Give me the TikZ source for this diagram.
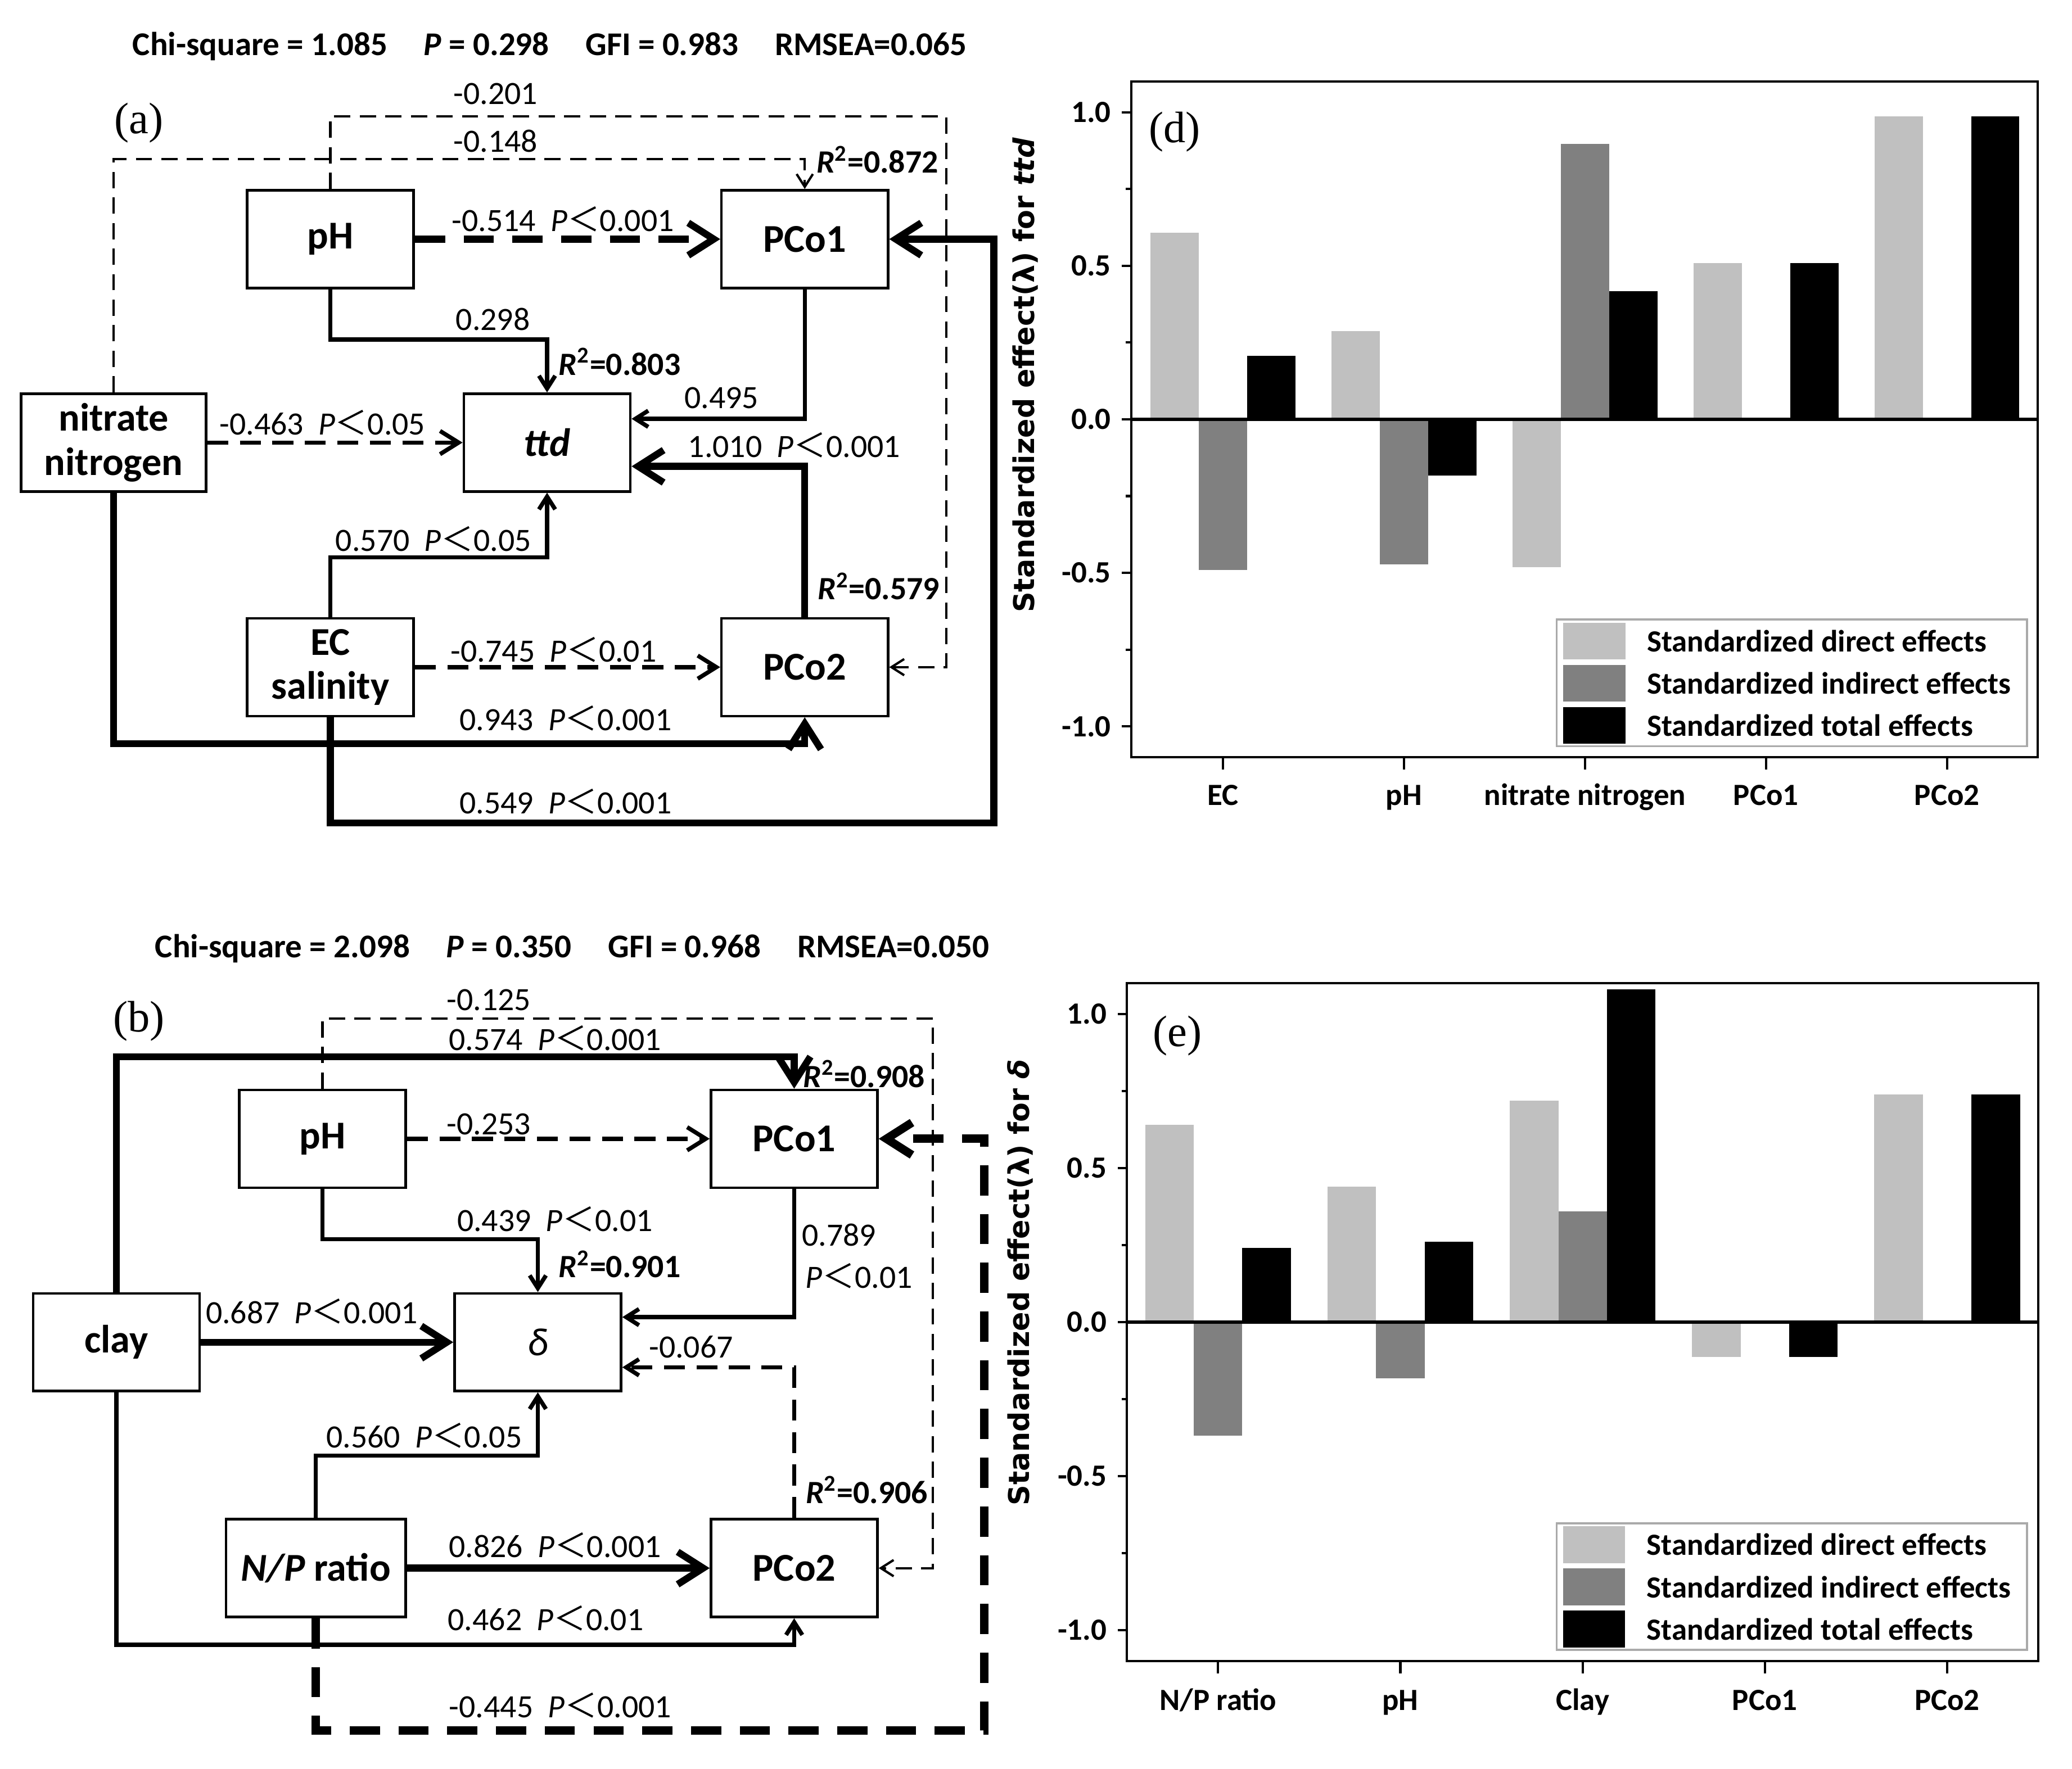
\documentclass[tikz,border=0pt]{standalone}
\usepackage{fontspec}
\setmainfont{Carlito}
\newfontfamily\panelfont{Liberation Serif}
\newfontfamily\axisfont{DejaVu Sans}
\newfontfamily\cjkfont{Noto Sans CJK SC}
\usetikzlibrary{arrows.meta}
\definecolor{directgray}{RGB}{192,192,192}
\definecolor{indirectgray}{RGB}{128,128,128}
\definecolor{legendgray}{RGB}{170,170,170}
\newcommand{\pless}{{\cjkfont ＜}}
\newcommand{\pgap}{\hspace{0.45em}}
\tikzset{
  var/.style={draw, line width=1.1pt, minimum width=2.52cm, minimum height=1.48cm, inner sep=0pt, align=center, font=\fontsize{17}{19}\selectfont\bfseries},
  coef/.style={anchor=base, inner sep=0pt, font=\fontsize{14}{16}\selectfont},
  rsq/.style={anchor=base, inner sep=0pt, font=\fontsize{14}{16}\selectfont\bfseries},
  fitstat/.style={anchor=base west, inner sep=0pt, font=\fontsize{14.3}{17}\selectfont\bfseries},
  panel/.style={inner sep=0pt, font=\fontsize{19}{21}\selectfont\panelfont},
  ticklab/.style={inner sep=0pt, font=\fontsize{13.3}{15}\selectfont\bfseries},
  ylab/.style={rotate=90, anchor=west, inner sep=0pt, font=\fontsize{12.3}{14}\selectfont\axisfont\bfseries},
  thinl/.style={line width=1pt},
  midl/.style={line width=1.8pt},
  thickl/.style={line width=3pt},
  xthickl/.style={line width=3.6pt},
  dashT/.style={dash pattern=on 7pt off 4pt},
  dashM/.style={dash pattern=on 9pt off 5pt},
  dashK/.style={dash pattern=on 13pt off 8pt},
  tipT/.style={-{Straight Barb[length=5.5pt,width=7pt]}},
  tipM/.style={-{Straight Barb[length=8pt,width=10pt]}},
  tipK/.style={-{Straight Barb[length=11pt,width=14pt]}},
}

\begin{document}
\begin{tikzpicture}[x=0.02cm, y=-0.02cm]
  \useasboundingbox (0,0) rectangle (1568,1339);

  % (a) path model for ttd
  \node[fitstat] (fitA) at (100,42) {Chi-square = 1.085\hspace{0.55cm}\textit{P} = 0.298\hspace{0.55cm}GFI = 0.983\hspace{0.55cm}RMSEA=0.065};
  \node[panel] (labA) at (105,93) {(a)};

  \node[var] (phA) at (250,181) {pH};
  \node[var] (pco1A) at (609,181) {PCo1};
  \node[var, minimum width=2.8cm] (nitA) at (86,335) {nitrate\\nitrogen};
  \node[var] (ttdA) at (414,335) {\textit{ttd}};
  \node[var] (ecA) at (250,505) {EC\\salinity};
  \node[var] (pco2A) at (609,505) {PCo2};
  \coordinate (topA) at (716,88);
  \coordinate (rimA) at (752,623);

  \draw[thinl, dashT, tipT] (phA.north) |- (topA) |- (pco2A.east);
  \draw[thinl, dashT, tipT] (nitA.north) |- ([yshift=0.45cm]pco1A.north) -- (pco1A.north);
  \draw[thickl, dashK, tipK] (phA) -- (pco1A);
  \draw[midl, tipT] (phA.south) |- ([yshift=0.8cm]ttdA.north) -- (ttdA.north);
  \draw[midl, tipT] (pco1A.south) |- ([yshift=0.36cm]ttdA.east);
  \draw[thickl, tipK] (pco2A.north) |- ([yshift=-0.36cm]ttdA.east);
  \draw[midl, dashM, tipM] (nitA) -- (ttdA);
  \draw[midl, tipT] (ecA.north) |- ([yshift=-0.98cm]ttdA.south) -- (ttdA.south);
  \draw[midl, dashM, tipM] (ecA) -- (pco2A);
  \draw[thickl, tipK] (nitA.south) |- ([yshift=-0.4cm]pco2A.south) -- (pco2A.south);
  \draw[thickl, tipK] (ecA.south) |- (rimA) |- (pco1A.east);

  \node[coef] (cA1) at (375,79) {-0.201};
  \node[coef] (cA2) at (375,115) {-0.148};
  \node[rsq] (rA1) at (664,131) {\textit{R}\textsuperscript{2}=0.872};
  \node[coef] (cA3) at (426,175) {-0.514\pgap\textit{P}\pless0.001};
  \node[coef] (cA4) at (373,250) {0.298};
  \node[rsq] (rA2) at (469,284) {\textit{R}\textsuperscript{2}=0.803};
  \node[coef] (cA5) at (546,309) {0.495};
  \node[coef] (cA6) at (244,329) {-0.463\pgap\textit{P}\pless0.05};
  \node[coef] (cA7) at (601,346) {1.010\pgap\textit{P}\pless0.001};
  \node[coef] (cA8) at (328,417) {0.570\pgap\textit{P}\pless0.05};
  \node[rsq] (rA3) at (665,454) {\textit{R}\textsuperscript{2}=0.579};
  \node[coef] (cA9) at (419,501) {-0.745\pgap\textit{P}\pless0.01};
  \node[coef] (cA10) at (428,553) {0.943\pgap\textit{P}\pless0.001};
  \node[coef] (cA11) at (428,616) {0.549\pgap\textit{P}\pless0.001};

  % (b) path model for delta
  \node[fitstat] (fitB) at (117,725) {Chi-square = 2.098\hspace{0.55cm}\textit{P} = 0.350\hspace{0.55cm}GFI = 0.968\hspace{0.55cm}RMSEA=0.050};
  \node[panel] (labB) at (105,773) {(b)};

  \node[var] (phB) at (244,862) {pH};
  \node[var] (pco1B) at (601,862) {PCo1};
  \node[var] (clayB) at (88,1016) {clay};
  \node[var] (deltaB) at (407,1016) {\mdseries\itshape δ};
  \node[var, minimum width=2.72cm] (npB) at (239,1187) {\textit{N/P} ratio};
  \node[var] (pco2B) at (601,1187) {PCo2};
  \coordinate (topB) at (706,771);
  \coordinate (rimB) at (745,1310);

  \draw[thinl, dashT, tipT] (phB.north) |- (topB) |- (pco2B.east);
  \draw[thickl, tipK] (clayB.north) |- ([yshift=0.48cm]pco1B.north) -- (pco1B.north);
  \draw[midl, dashM, tipM] (phB) -- (pco1B);
  \draw[midl, tipT] (phB.south) |- ([yshift=0.8cm]deltaB.north) -- (deltaB.north);
  \draw[midl, tipT] (pco1B.south) |- ([yshift=0.38cm]deltaB.east);
  \draw[thickl, tipK] (clayB) -- (deltaB);
  \draw[midl, dashM, tipT] (pco2B.north) |- ([yshift=-0.38cm]deltaB.east);
  \draw[midl, tipT] (npB.north) |- ([yshift=-0.96cm]deltaB.south) -- (deltaB.south);
  \draw[thickl, tipK] (npB) -- (pco2B);
  \draw[midl, tipT] (clayB.south) |- ([yshift=-0.4cm]pco2B.south) -- (pco2B.south);
  \draw[xthickl, dashK, tipK] (npB.south) |- (rimB) |- (pco1B.east);

  \node[coef] (cB1) at (370,765) {-0.125};
  \node[coef] (cB2) at (420,795) {0.574\pgap\textit{P}\pless0.001};
  \node[rsq] (rB1) at (654,823) {\textit{R}\textsuperscript{2}=0.908};
  \node[coef] (cB3) at (370,859) {-0.253};
  \node[coef] (cB4) at (420,932) {0.439\pgap\textit{P}\pless0.01};
  \node[rsq] (rB2) at (469,967) {\textit{R}\textsuperscript{2}=0.901};
  \node[coef] (cB5) at (635,943) {0.789};
  \node[coef] (cB6) at (650,975) {\textit{P}\pless0.01};
  \node[coef] (cB7) at (236,1002) {0.687\pgap\textit{P}\pless0.001};
  \node[coef] (cB8) at (523,1028) {-0.067};
  \node[coef] (cB9) at (321,1096) {0.560\pgap\textit{P}\pless0.05};
  \node[rsq] (rB3) at (656,1138) {\textit{R}\textsuperscript{2}=0.906};
  \node[coef] (cB10) at (420,1179) {0.826\pgap\textit{P}\pless0.001};
  \node[coef] (cB11) at (413,1234) {0.462\pgap\textit{P}\pless0.01};
  \node[coef] (cB12) at (424,1300) {-0.445\pgap\textit{P}\pless0.001};

  % (d) effects on ttd
  \node[panel] (labD) at (889,100) {(d)};
  \node[ylab] (ylabD) at (776,464) {Standardized effect(λ) for \textit{ttd}};
  \begin{scope}[shift={(925.5,317.4)}, x=2.74cm, y=4.65cm]
    \foreach \i/\a/\b/\c in {0/0.608/-0.49/0.206, 1/0.287/-0.472/-0.183, 2/-0.482/0.896/0.417, 3/0.509/0/0.509, 4/0.987/0/0.987} {
      \fill[directgray] (\i-0.4,0) rectangle (\i-0.133,\a);
      \fill[indirectgray] (\i-0.133,0) rectangle (\i+0.133,\b);
      \fill[black] (\i+0.133,0) rectangle (\i+0.4,\c);
    }
    \draw[line width=1.3pt] (-0.507,0) -- (4.5,0);
    \draw[line width=1pt] (-0.507,-1.1) rectangle (4.5,1.1);
    \foreach \v/\t [count=\k] in {1/1.0, 0.5/0.5, 0/0.0, -0.5/-0.5, -1/-1.0}
      \draw[line width=1pt] (-0.507,\v) -- ++(-0.14cm,0) node[ticklab, anchor=east, xshift=-0.15cm] (ytD\k) {\t};
    \foreach \v in {-0.75,-0.25,0.25,0.75}
      \draw[line width=1pt] (-0.507,\v) -- ++(-0.08cm,0);
    \foreach \i in {0,...,4}
      \draw[line width=1pt] (\i,-1.1) -- ++(0,-0.19cm);
    \foreach \n [count=\k from 0] in {EC, pH, nitrate nitrogen, PCo1, PCo2}
      \node[ticklab, anchor=base] (xtD\k) at (\k,-1.256) {\n};
    \draw[legendgray, line width=0.8pt] (1.843,-0.652) rectangle (4.442,-1.065);
    \foreach \col/\txt [count=\k from 0] in {directgray/direct, indirectgray/indirect, black/total} {
      \fill[\col] (1.88,-0.662-0.1375*\k) rectangle (2.223,-0.782-0.1375*\k);
      \node[ticklab, anchor=west] (lgD\k) at (2.34,-0.722-0.1375*\k) {Standardized \txt\ effects};
    }
  \end{scope}

  % (e) effects on delta
  \node[panel] (labE) at (891,784) {(e)};
  \node[ylab] (ylabE) at (772,1140) {Standardized effect(λ) for \textit{δ}};
  \begin{scope}[shift={(921.8,1000.8)}, x=2.759cm, y=4.664cm]
    \foreach \i/\a/\b/\c in {0/0.641/-0.369/0.241, 1/0.44/-0.183/0.261, 2/0.719/0.359/1.08, 3/-0.113/0/-0.113, 4/0.739/0/0.739} {
      \fill[directgray] (\i-0.4,0) rectangle (\i-0.133,\a);
      \fill[indirectgray] (\i-0.133,0) rectangle (\i+0.133,\b);
      \fill[black] (\i+0.133,0) rectangle (\i+0.4,\c);
    }
    \draw[line width=1.3pt] (-0.5,0) -- (4.5,0);
    \draw[line width=1pt] (-0.5,-1.1) rectangle (4.5,1.1);
    \foreach \v/\t [count=\k] in {1/1.0, 0.5/0.5, 0/0.0, -0.5/-0.5, -1/-1.0}
      \draw[line width=1pt] (-0.5,\v) -- ++(-0.14cm,0) node[ticklab, anchor=east, xshift=-0.15cm] (ytE\k) {\t};
    \foreach \v in {-0.75,-0.25,0.25,0.75}
      \draw[line width=1pt] (-0.5,\v) -- ++(-0.08cm,0);
    \foreach \i in {0,...,4}
      \draw[line width=1pt] (\i,-1.1) -- ++(0,-0.19cm);
    \foreach \n [count=\k from 0] in {{N/P ratio}, pH, Clay, PCo1, PCo2}
      \node[ticklab, anchor=base] (xtE\k) at (\k,-1.26) {\n};
    \draw[legendgray, line width=0.8pt] (1.857,-0.653) rectangle (4.438,-1.064);
    \foreach \col/\txt [count=\k from 0] in {directgray/direct, indirectgray/indirect, black/total} {
      \fill[\col] (1.893,-0.662-0.1375*\k) rectangle (2.233,-0.782-0.1375*\k);
      \node[ticklab, anchor=west] (lgE\k) at (2.35,-0.722-0.1375*\k) {Standardized \txt\ effects};
    }
  \end{scope}
\end{tikzpicture}
\end{document}
